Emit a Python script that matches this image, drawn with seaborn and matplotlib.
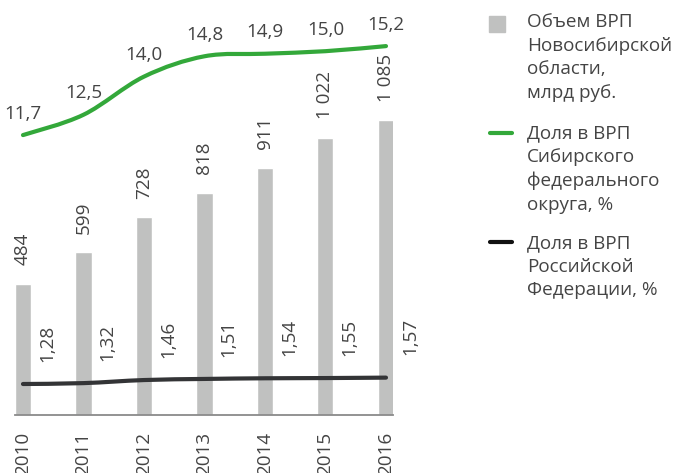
import matplotlib
matplotlib.use("Agg")
import matplotlib.pyplot as plt
import seaborn as sns
import pandas as pd
import numpy as np
from matplotlib.path import Path
from matplotlib.patches import PathPatch, Rectangle
from matplotlib.lines import Line2D

# ---------------- data ----------------
years = ["2010", "2011", "2012", "2013", "2014", "2015", "2016"]
grp_volume = [484, 599, 728, 818, 911, 1022, 1085]
grp_labels = ["484", "599", "728", "818", "911", "1 022", "1 085"]
share_sfd = [11.7, 12.5, 14.0, 14.8, 14.9, 15.0, 15.2]
share_rf = [1.28, 1.32, 1.46, 1.51, 1.54, 1.55, 1.57]
legend_labels = [
    "Объем ВРП\nНовосибирской\nобласти,\nмлрд руб.",
    "Доля в ВРП\nСибирского\nфедерального\nокруга, %",
    "Доля в ВРП\nРоссийской\nФедерации, %",
]

# ---------------- style ----------------
W, H = 676, 473
sns.set_theme(style="white")
plt.rcParams['font.family'] = ['Open Sans', 'DejaVu Sans']
TEXT = '#444444'
BAR = '#c0c1c0'
GREEN = '#33a83a'
DARK = '#333436'
FS = 13.6


def fmt(v, nd):
    return f"{v:.{nd}f}".replace('.', ',')


def smooth_path(xs, ys):
    pts = np.column_stack([xs, ys]).astype(float)
    n = len(pts)
    verts = [pts[0]]
    codes = [Path.MOVETO]
    for i in range(n - 1):
        p0 = pts[i - 1] if i > 0 else pts[i]
        p1 = pts[i]
        p2 = pts[i + 1]
        p3 = pts[i + 2] if i + 2 < n else pts[i + 1]
        c1 = p1 + (p2 - p0) / 6.0
        c2 = p2 - (p3 - p1) / 6.0
        verts += [c1, c2, p2]
        codes += [Path.CURVE4] * 3
    return Path(verts, codes)


fig = plt.figure(figsize=(W / 100, H / 100), dpi=100)
ax = fig.add_axes([15 / W, 58 / H, 378 / W, 405 / H])

df = pd.DataFrame({"year": years, "vol": grp_volume})
sns.barplot(data=df, x="year", y="vol", color=BAR, width=0.265,
            saturation=1, ax=ax)
ax.set_xlim(-0.132, 6.116)
ax.set_ylim(0, 405 / 0.2715)
ax.set_xlabel("")
ax.set_ylabel("")
ax.set_yticks([])
ax.set_xticks(range(len(years)))
ax.set_xticklabels(years, rotation=90)
ax.tick_params(axis='x', length=0, pad=12, labelsize=FS, colors=TEXT)
for s in ['top', 'right', 'left']:
    ax.spines[s].set_visible(False)
ax.spines['bottom'].set_color('#8a8a8a')
ax.spines['bottom'].set_linewidth(1.3)

xpos = np.arange(len(years))
for i, (v, lab) in enumerate(zip(grp_volume, grp_labels)):
    ax.annotate(lab, (i, v), xytext=(0, 13.5), textcoords='offset points',
                rotation=90, ha='center', va='bottom', fontsize=FS, color=TEXT,
                annotation_clip=False)

# green line axis
ax2 = ax.twinx()
ax2.set_ylim(0.69, 16.62)
ax2.add_patch(PathPatch(smooth_path(xpos, share_sfd), fill=False,
                        edgecolor=GREEN, lw=3.0, capstyle='round'))
for i, v in enumerate(share_sfd):
    ax2.annotate(fmt(v, 1), (i, v), xytext=(0, 15.5), textcoords='offset points',
                 ha='center', va='center', fontsize=FS, color=TEXT,
                 annotation_clip=False)

# dark line axis
ax3 = ax.twinx()
ax3.set_ylim(-0.129, 18.28)
ax3.add_patch(PathPatch(smooth_path(xpos, share_rf), fill=False,
                        edgecolor=DARK, lw=3.0, capstyle='round'))
for i, v in enumerate(share_rf):
    ax3.annotate(fmt(v, 2), (i + 0.4, v), xytext=(0, 16), textcoords='offset points',
                 rotation=90, ha='center', va='bottom', fontsize=FS, color=TEXT,
                 annotation_clip=False)

for a in (ax2, ax3):
    a.set_yticks([])
    for s in a.spines.values():
        s.set_visible(False)

# ---------------- legend ----------------
def fx(x):
    return x / W


def fy(y):
    return 1 - y / H


fig.patches.append(Rectangle((fx(489), fy(32)), 16 / W, 16 / H,
                             transform=fig.transFigure, color=BAR))
fig.lines.append(Line2D([fx(490), fx(512)], [fy(133), fy(133)],
                        transform=fig.transFigure, color=GREEN, lw=3.0))
fig.lines.append(Line2D([fx(490), fx(512)], [fy(242), fy(242)],
                        transform=fig.transFigure, color='#111111', lw=3.0))
for lab, ytop in zip(legend_labels, [13, 124, 234]):
    fig.text(fx(527), fy(ytop), lab, ha='left', va='top', fontsize=FS,
             color=TEXT, linespacing=1.4)

fig.savefig("out.png", dpi=100)
